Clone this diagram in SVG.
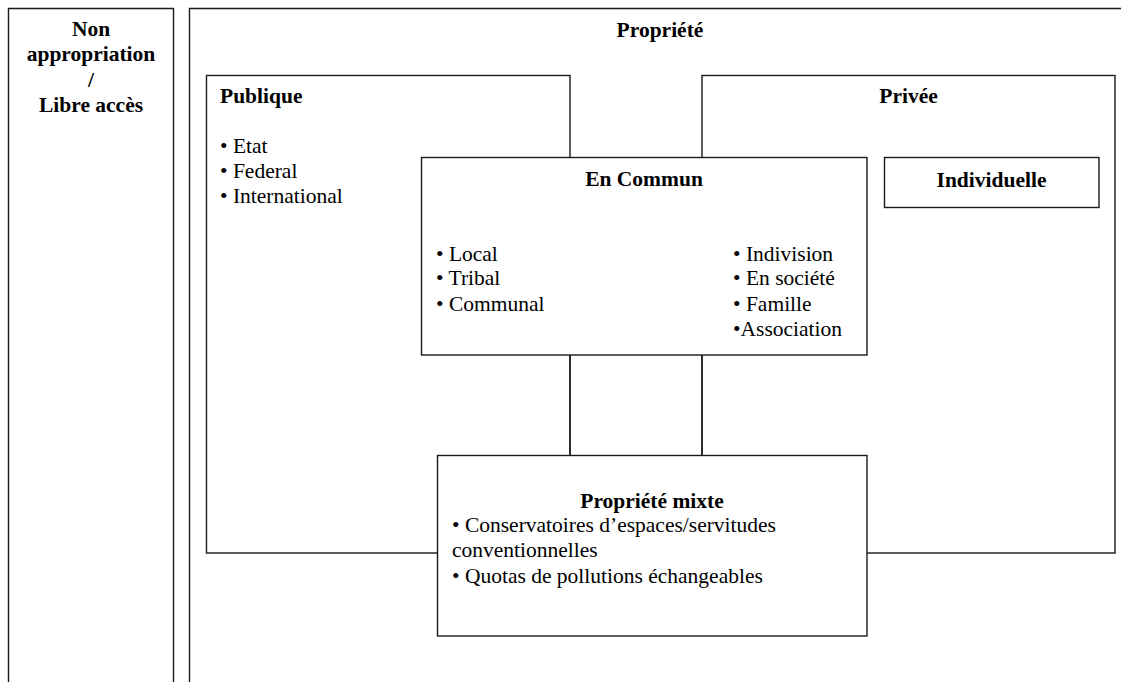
<svg xmlns="http://www.w3.org/2000/svg" width="1121" height="682" viewBox="0 0 1121 682">
<style>
.box{fill:#fff;stroke:#1a1a1a;stroke-width:1.4}
.frame{fill:none;stroke:#1a1a1a;stroke-width:1.4}
text{font-family:"Liberation Serif","Times New Roman",serif;font-size:21.5px;fill:#000}
.b{font-weight:bold}
.c{text-anchor:middle}
</style>
<rect width="1121" height="682" fill="#fff"/>
<g id="non-appropriation">
<path class="frame" d="M8.5,690 V8.5 H173.5 V690"/>
<text class="b c" x="91" y="36">Non</text>
<text class="b c" x="91" y="61">appropriation</text>
<text class="b c" x="91" y="87">/</text>
<text class="b c" x="91" y="112">Libre accès</text>
</g>
<g id="propriete">
<path class="frame" d="M189.5,690 V8.5 H1130"/>
<text class="b c" x="660" y="37">Propriété</text>
</g>
<g id="publique">
<rect class="box" x="206.5" y="75.5" width="363.5" height="477.5"/>
<text class="b" x="220" y="103">Publique</text>
<text x="220" y="153">• Etat</text>
<text x="220" y="178">• Federal</text>
<text x="220" y="203">• International</text>
</g>
<g id="privee">
<rect class="box" x="702" y="75.5" width="413" height="477.5"/>
<text class="b c" x="908.5" y="103">Privée</text>
</g>
<g id="individuelle">
<rect class="box" x="884.5" y="157.5" width="214.5" height="50"/>
<text class="b c" x="991.5" y="187">Individuelle</text>
</g>
<g id="en-commun">
<rect class="box" x="421.5" y="157.5" width="445.5" height="197.5"/>
<text class="b c" x="644" y="186">En Commun</text>
<text x="436" y="261">• Local</text>
<text x="436" y="285">• Tribal</text>
<text x="436" y="311">• Communal</text>
<text x="733" y="261">• Indivision</text>
<text x="733" y="285">• En société</text>
<text x="733" y="311">• Famille</text>
<text x="733" y="336">•Association</text>
</g>
<g id="connectors">
<line class="frame" x1="570" y1="355" x2="570" y2="455"/>
<line class="frame" x1="702" y1="355" x2="702" y2="455"/>
</g>
<g id="propriete-mixte">
<rect class="box" x="437.5" y="455.5" width="429.5" height="180.5"/>
<text class="b c" x="652" y="508">Propriété mixte</text>
<text x="452" y="532">• Conservatoires d’espaces/servitudes</text>
<text x="452" y="557">conventionnelles</text>
<text x="452" y="583">• Quotas de pollutions échangeables</text>
</g>
</svg>
